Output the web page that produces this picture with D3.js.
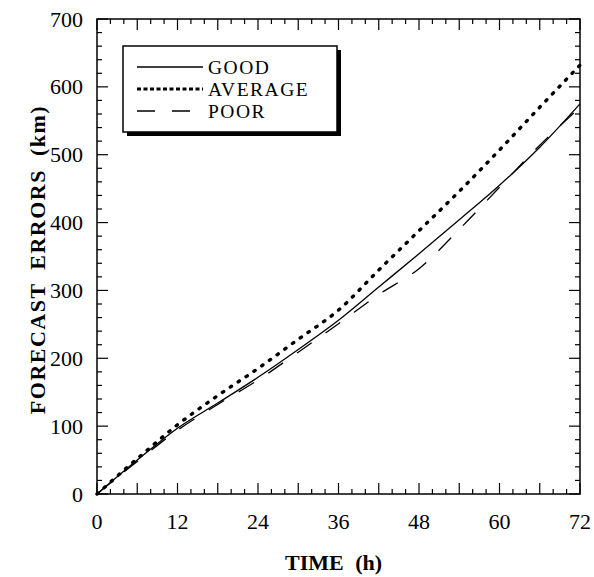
<!DOCTYPE html>
<html>
<head>
<meta charset="utf-8">
<script src="https://cdn.jsdelivr.net/npm/d3@7"></script>
<style>
  body { margin: 0; background: #fff; }
  text { font-family: "Liberation Serif", "Times New Roman", serif; fill: #000; }
</style>
</head>
<body>
<div id="chart"></div>
<script>
// forecast hours and errors (km)
var hours = [0, 6, 12, 18, 24, 30, 36, 42, 48, 54, 60, 66, 72];
var good = [0, 50, 97, 134, 172, 213, 256, 305, 354, 404, 455, 511, 575];
var average = [0, 52, 102, 145, 185, 228, 271, 330, 388, 446, 507, 570, 632];
var poor = [0, 48, 94, 132, 168, 209, 251, 294, 332, 390, 452, 514, 570];
var seriesNames = ["GOOD", "AVERAGE", "POOR"];
var xTickLabels = [0, 12, 24, 36, 48, 60, 72];
var yTickLabels = [0, 100, 200, 300, 400, 500, 600, 700];

var W = 594, H = 577;
var margin = {top: 19, right: 14, bottom: 83, left: 97};
var width = W - margin.left - margin.right,
    height = H - margin.top - margin.bottom;

var x = d3.scaleLinear().domain([0, 72]).range([0, width]);
var y = d3.scaleLinear().domain([0, 700]).range([height, 0]);

var svg = d3.select("#chart").append("svg")
    .attr("width", W)
    .attr("height", H)
  .append("g")
    .attr("transform", "translate(" + margin.left + "," + margin.top + ")");

// inward ticks on all four sides
var minorX = d3.range(0, 73, 2), majorX = d3.range(0, 73, 6);
var minorY = d3.range(0, 701, 20), majorY = d3.range(0, 701, 100);

function tickLen(v, majors, big, small) { return majors.indexOf(v) >= 0 ? big : small; }

svg.append("g").selectAll("line")
    .data(minorX).enter().append("line")
    .attr("x1", function(d) { return x(d); })
    .attr("x2", function(d) { return x(d); })
    .attr("y1", height)
    .attr("y2", function(d) { return height - tickLen(d, majorX, 11, 5); })
    .attr("stroke", "#000").attr("stroke-width", 1.2);

svg.append("g").selectAll("line")
    .data(minorX).enter().append("line")
    .attr("x1", function(d) { return x(d); })
    .attr("x2", function(d) { return x(d); })
    .attr("y1", 0)
    .attr("y2", function(d) { return tickLen(d, majorX, 11, 5); })
    .attr("stroke", "#000").attr("stroke-width", 1.2);

svg.append("g").selectAll("line")
    .data(minorY).enter().append("line")
    .attr("y1", function(d) { return y(d); })
    .attr("y2", function(d) { return y(d); })
    .attr("x1", 0)
    .attr("x2", function(d) { return tickLen(d, majorY, 11, 5); })
    .attr("stroke", "#000").attr("stroke-width", 1.2);

svg.append("g").selectAll("line")
    .data(minorY).enter().append("line")
    .attr("y1", function(d) { return y(d); })
    .attr("y2", function(d) { return y(d); })
    .attr("x1", width)
    .attr("x2", function(d) { return width - tickLen(d, majorY, 11, 5); })
    .attr("stroke", "#000").attr("stroke-width", 1.2);

// frame
svg.append("rect")
    .attr("width", width)
    .attr("height", height)
    .attr("fill", "none")
    .attr("stroke", "#000")
    .attr("stroke-width", 1.5);

// tick labels
svg.append("g").selectAll("text")
    .data(xTickLabels).enter().append("text")
    .attr("x", function(d) { return x(d); })
    .attr("y", height + 35)
    .attr("text-anchor", "middle")
    .style("font-size", "22px")
    .text(function(d) { return d; });

svg.append("g").selectAll("text")
    .data(yTickLabels).enter().append("text")
    .attr("x", -14)
    .attr("y", function(d) { return y(d) + 7.5; })
    .attr("text-anchor", "end")
    .style("font-size", "22px")
    .text(function(d) { return d; });

// axis titles
svg.append("text")
    .attr("x", width / 2 - 5)
    .attr("y", height + 76)
    .attr("text-anchor", "middle")
    .style("font-size", "22px")
    .style("font-weight", "bold")
    .style("word-spacing", "6px")
    .text("TIME (h)");

svg.append("text")
    .attr("transform", "rotate(-90)")
    .attr("x", -height / 2 - 3)
    .attr("y", -52)
    .attr("text-anchor", "middle")
    .style("font-size", "22px")
    .style("font-weight", "bold")
    .style("letter-spacing", "1.5px")
    .style("word-spacing", "6px")
    .text("FORECAST ERRORS (km)");

// curves
var line = d3.line()
    .x(function(d, i) { return x(hours[i]); })
    .y(function(d) { return y(d); })
    .curve(d3.curveMonotoneX);

var styles = {
    GOOD: {data: good, width: 1.3, dash: null, cap: "butt"},
    AVERAGE: {data: average, width: 3.4, dash: "1.5 8", cap: "round"},
    POOR: {data: poor, width: 1.3, dash: "18 17", cap: "butt"}
};

seriesNames.forEach(function(name) {
    var s = styles[name];
    svg.append("path")
        .datum(s.data)
        .attr("d", line)
        .attr("fill", "none")
        .attr("stroke", "#000")
        .attr("stroke-width", s.width)
        .attr("stroke-linecap", s.cap)
        .attr("stroke-dasharray", s.dash);
});

// legend box with drop shadow
var leg = svg.append("g").attr("transform", "translate(" + (123 - margin.left) + "," + (46 - margin.top) + ")");
var lw = 214, lh = 86;
leg.append("rect")
    .attr("x", 4).attr("y", 4)
    .attr("width", lw).attr("height", lh)
    .attr("fill", "#000");
leg.append("rect")
    .attr("width", lw).attr("height", lh)
    .attr("fill", "#fff")
    .attr("stroke", "#000")
    .attr("stroke-width", 1.5);

var legDash = {GOOD: null, AVERAGE: "4 2.5", POOR: "18 17"};
var legWidth = {GOOD: 1.3, AVERAGE: 3, POOR: 1.3};
seriesNames.forEach(function(name, i) {
    var yy = 21 + i * 22;
    leg.append("line")
        .attr("x1", 14).attr("x2", 80)
        .attr("y1", yy).attr("y2", yy)
        .attr("stroke", "#000")
        .attr("stroke-width", legWidth[name])
        .attr("stroke-dasharray", legDash[name]);
    leg.append("text")
        .attr("x", 85)
        .attr("y", yy + 7)
        .style("font-size", "19.5px")
        .style("letter-spacing", "1.5px")
        .text(name);
});
</script>
</body>
</html>
